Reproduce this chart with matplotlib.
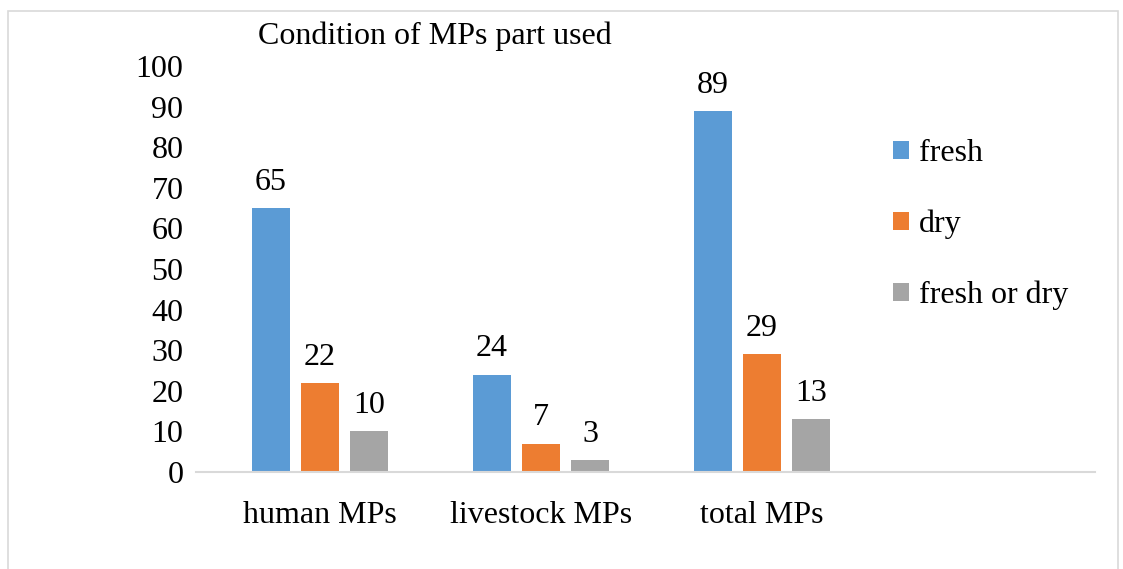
# Condition of MPs part used - grouped bar chart
import matplotlib.pyplot as plt
import matplotlib.patches as patches
import numpy as np

plt.rcParams['font.family'] = ['Liberation Serif', 'DejaVu Serif']

# data
categories = ["human MPs", "livestock MPs", "total MPs"]
series_names = ["fresh", "dry", "fresh or dry"]
fresh = [65, 24, 89]
dry = [22, 7, 29]
fresh_or_dry = [10, 3, 13]

COLORS = ["#5B9BD5", "#ED7D31", "#A5A5A5"]
FS = 23

fig = plt.figure(figsize=(11.23, 5.69), dpi=100)
ax = fig.add_axes([196 / 1123, 97 / 569, 899 / 1123, 406 / 569])

# outer chart border
fig.patches.append(patches.Rectangle((8 / 1123, -0.1), 1110 / 1123, 1.1 - 11 / 569,
                                     transform=fig.transFigure, fill=False,
                                     edgecolor="#D9D9D9", linewidth=1.2))

x = np.arange(len(categories))
width = 0.172
step = 0.222

for i, (vals, name) in enumerate(zip([fresh, dry, fresh_or_dry], series_names)):
    bars = ax.bar(x + (i - 1) * step, vals, width, color=COLORS[i], label=name)
    ax.bar_label(bars, padding=8, fontsize=FS)

ax.set_ylim(0, 100)
ax.set_xlim(-0.561, 3.507)
ax.set_yticks(range(0, 101, 10))
ax.set_xticks(x)
ax.set_xticklabels(categories)
ax.tick_params(axis="both", length=0, labelsize=FS)
ax.tick_params(axis="y", pad=9)
ax.tick_params(axis="x", pad=21)

for side in ["top", "right", "left"]:
    ax.spines[side].set_visible(False)
ax.spines["bottom"].set_color("#D9D9D9")
ax.spines["bottom"].set_linewidth(1.5)

fig.text(435 / 1123, 1 - 36 / 569, "Condition of MPs part used",
         ha="center", va="center", fontsize=FS)

ax.legend(loc="upper left", bbox_to_anchor=(893 / 1123, 1 - 139 / 569),
          bbox_transform=fig.transFigure, frameon=False, fontsize=FS,
          handlelength=0.5, handleheight=0.5, handletextpad=0.3,
          labelspacing=1.3, borderpad=0, borderaxespad=0)

fig.savefig("out.png", dpi=100)
